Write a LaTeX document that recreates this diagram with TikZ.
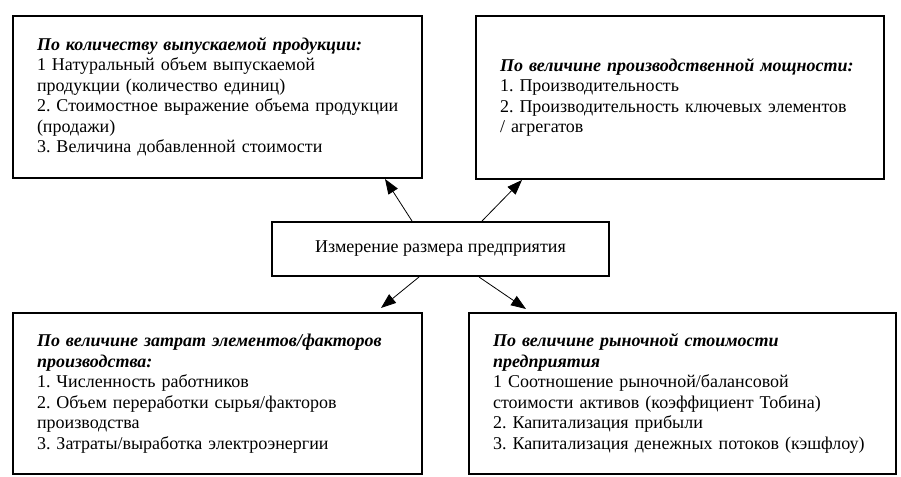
\documentclass[tikz,border=0pt]{standalone}
\usepackage{fontspec}
\setmainfont{Liberation Serif}
\usetikzlibrary{arrows.meta}
\frenchspacing
\begin{document}
\begin{tikzpicture}[x=1pt,y=-1pt,
                box/.style={draw,line width=2pt,anchor=north west,align=left,
                        inner xsep=24pt,font=\fontsize{18}{20.5}\selectfont},
                arr/.style={-{Triangle[length=15pt,width=11pt]},line width=0.8pt}]
                \useasboundingbox (0,0) rectangle (901,476);

                \node[box,minimum width=409pt,minimum height=162pt,text width=361pt] (output) at (12,15)
                        {\textbf{\textit{По количеству выпускаемой продукции:}}\\
                        1 Натуральный объем выпускаемой\\
                        продукции (количество единиц)\\
                        \mbox{2. Стоимостное выражение объема продукции}\\
                        (продажи)\\
                        3. Величина добавленной стоимости};

                \node[box,minimum width=408pt,minimum height=163pt,text width=360pt] (capacity) at (475,15)
                        {\textbf{\textit{По величине производственной мощности:}}\\
                        1. Производительность\\
                        2. Производительность ключевых элементов\\
                        / агрегатов};

                \node[box,minimum width=409pt,minimum height=161pt,text width=361pt] (inputs) at (12,312)
                        {\textbf{\textit{По величине затрат элементов/факторов}}\\
                        \textbf{\textit{производства:}}\\
                        1. Численность работников\\
                        2. Объем переработки сырья/факторов\\
                        производства\\
                        3. Затраты/выработка электроэнергии};

                \node[box,minimum width=427pt,minimum height=161pt,text width=379pt] (market) at (468,312)
                        {\textbf{\textit{По величине рыночной стоимости}}\\
                        \textbf{\textit{предприятия}}\\
                        1 Соотношение рыночной/балансовой\\
                        стоимости активов (коэффициент Тобина)\\
                        2. Капитализация прибыли\\
                        3. Капитализация денежных потоков (кэшфлоу)};

                \node[draw,line width=2pt,minimum width=337pt,minimum height=54pt,
                        font=\fontsize{18}{20.5}\selectfont] (size) at (440.5,249)
                        {Измерение размера предприятия};

                \draw[arr] ([xshift=141pt]size.north west) -- ([xshift=-38pt]output.south east);
                \draw[arr] ([xshift=211pt]size.north west) -- ([xshift=47pt]capacity.south west);
                \draw[arr] ([xshift=148pt]size.south west) -- ([xshift=-42pt,yshift=4pt]inputs.north east);
                \draw[arr] ([xshift=208pt]size.south west) -- ([xshift=58pt,yshift=3pt]market.north west);
\end{tikzpicture}
\end{document}
